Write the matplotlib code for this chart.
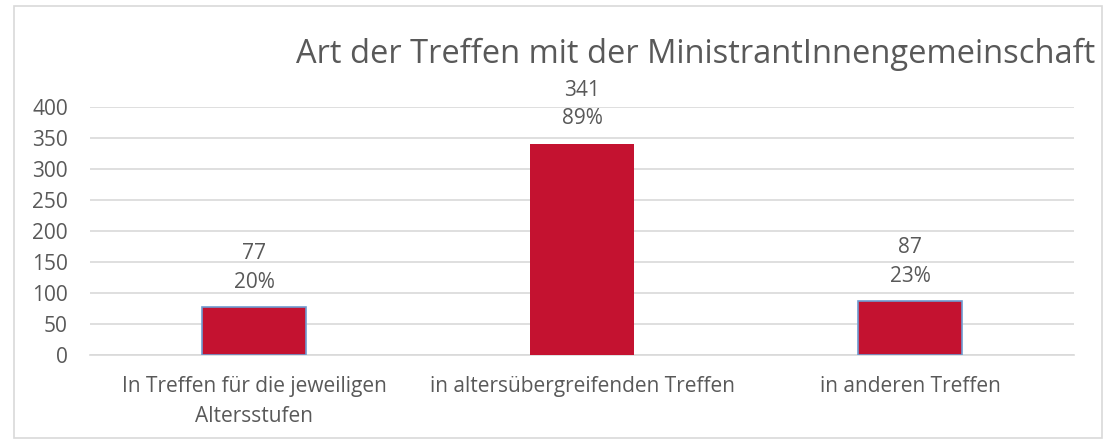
import matplotlib
matplotlib.use("Agg")
import matplotlib.pyplot as plt
from matplotlib.patches import Rectangle

categories = ["In Treffen für die jeweiligen\nAltersstufen", "in altersübergreifenden Treffen", "in anderen Treffen"]
values = [77, 341, 87]
percents = ["20%", "89%", "23%"]
yticks = [0, 50, 100, 150, 200, 250, 300, 350, 400]
title = "Art der Treffen mit der MinistrantInnengemeinschaft"

plt.rcParams['font.family'] = ['Open Sans', 'DejaVu Sans']
W, H = 1110, 442
fig = plt.figure(figsize=(W/100, H/100), dpi=100)
txt = '#595959'
grid = '#D9D9D9'
fs = 15

# outer frame
fig.patches.append(Rectangle((14/W, 4/H), (1102-14)/W, (438-6)/H, transform=fig.transFigure,
                             fill=False, edgecolor='#D9D9D9', linewidth=1.2))

ax = fig.add_axes([90/W, 1-355/H, (1074-90)/W, (355-107)/H])
x = range(len(categories))
bars = ax.bar(x, values, width=0.317, color='#C41230', zorder=3)
for i, b in enumerate(bars):
    if i != 1:
        b.set_edgecolor('#6E9BD0')
        b.set_linewidth(1.2)
ax.set_xlim(-0.5, 2.5)
ax.set_ylim(0, 400)
ax.set_yticks(yticks)
ax.set_yticklabels([str(t) for t in yticks], fontsize=fs, color=txt)
ax.yaxis.grid(True, color=grid, linewidth=1.2, zorder=0)
ax.tick_params(axis='y', length=0, pad=16)
ax.tick_params(axis='x', length=0, pad=15)
ax.set_xticks(list(x))
ax.set_xticklabels(categories, fontsize=fs, color=txt, linespacing=1.55)
for s in ['top', 'right', 'left']:
    ax.spines[s].set_visible(False)
ax.spines['bottom'].set_color(grid)
ax.spines['bottom'].set_linewidth(1.2)

for i, (v, p) in enumerate(zip(values, percents)):
    ax.annotate(p, (i, v), xytext=(0, 18), textcoords='offset points', ha='center', va='center',
                fontsize=fs, color=txt)
    ax.annotate(str(v), (i, v), xytext=(0, 38.5), textcoords='offset points', ha='center', va='center',
                fontsize=fs, color=txt)

fig.text(1095/W, 1-54/H, title, ha='right', va='center', fontsize=23.5, color=txt)
fig.savefig('out.png', dpi=100)
